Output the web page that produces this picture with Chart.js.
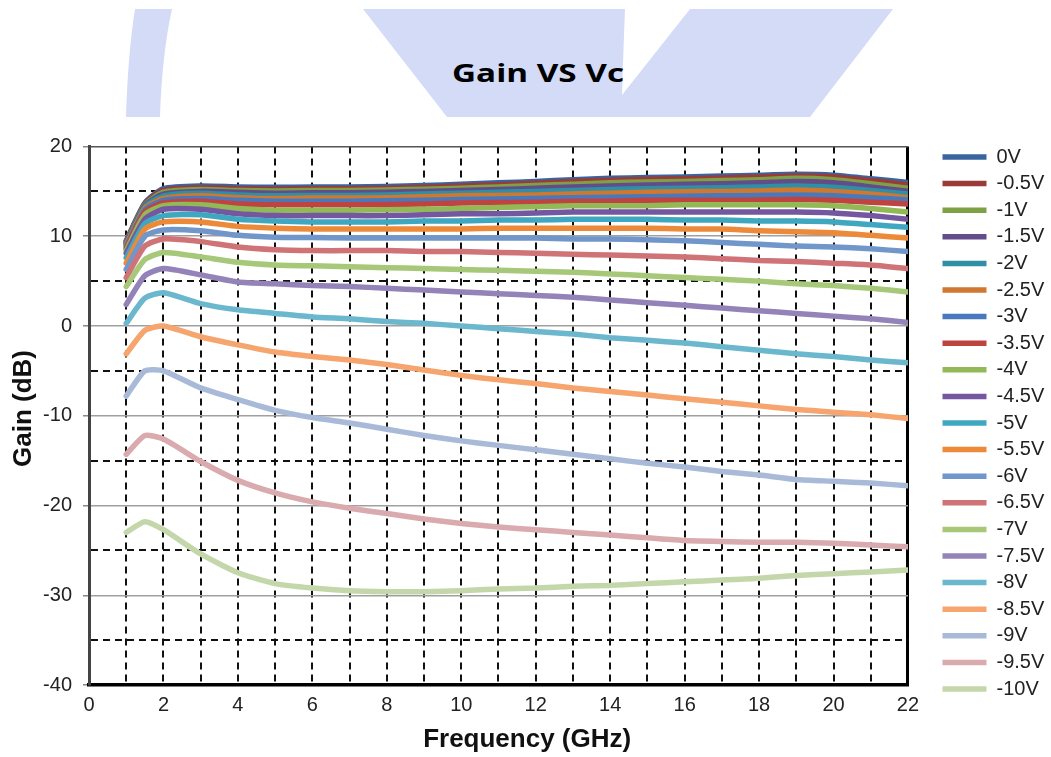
<!DOCTYPE html>
<html lang="en">
<head>
<meta charset="UTF-8">
<title>Gain VS Vc</title>
<script src="https://cdn.jsdelivr.net/npm/chart.js@4"></script>
<style>
    html, body {
        margin: 0;
        padding: 0;
        background: #fff;
        width: 1051px;
        height: 757px;
        overflow: hidden;
        position: relative;
    }
    #banner {
        position: absolute;
        left: 0;
        top: 0;
    }
    .chart-box {
        position: absolute;
        left: 0;
        top: 118px;
        width: 1060px;
        height: 639px;
    }
</style>
</head>
<body>
<svg id="banner" width="1051" height="120">
    <path fill="#d3dbf7" d="M135,9 C130,40 127,80 126,117 L160,117 C161,80 165,40 172,9 Z"/>
    <path fill="#d3dbf7" d="M363,9 L625,9 Q623,60 622,95 L690,9 L893,9 L810,117 L447,117 Z"/>
    <text x="452" y="82" textLength="172" lengthAdjust="spacingAndGlyphs"
          font-family="Open Sans" font-weight="700" font-size="25" fill="#000">Gain VS Vc</text>
</svg>
<div class="chart-box"><canvas id="gainChart"></canvas></div>

<script>
// frequency points (GHz)
const freqGHz = [1, 1.5, 2, 3, 4, 5, 6, 7, 8, 9, 10, 11, 12, 13, 14, 15, 16, 17, 18, 19, 20, 21, 22];

const biasLabels = ['0V', '-0.5V', '-1V', '-1.5V', '-2V', '-2.5V', '-3V', '-3.5V', '-4V', '-4.5V', '-5V',
                    '-5.5V', '-6V', '-6.5V', '-7V', '-7.5V', '-8V', '-8.5V', '-9V', '-9.5V', '-10V'];

// gain (dB) per control voltage
const gain0V    = [9.5, 13.7, 15.3, 15.6, 15.5, 15.45, 15.5, 15.5, 15.55, 15.65, 15.8, 15.95, 16.1, 16.3, 16.45, 16.55, 16.6, 16.7, 16.8, 16.9, 16.8, 16.4, 16.0];
const gainM0_5V = [9.4, 13.6, 15.1, 15.4, 15.3, 15.25, 15.3, 15.3, 15.35, 15.45, 15.6, 15.75, 15.9, 16.1, 16.25, 16.35, 16.4, 16.5, 16.6, 16.7, 16.6, 16.2, 15.7];
const gainM1V   = [9.3, 13.5, 14.9, 15.2, 15.1, 15.05, 15.1, 15.1, 15.15, 15.25, 15.35, 15.5, 15.65, 15.8, 15.95, 16.05, 16.1, 16.2, 16.3, 16.45, 16.3, 15.85, 15.35];
const gainM1_5V = [9.2, 13.4, 14.7, 15.0, 14.9, 14.8, 14.85, 14.85, 14.9, 15.0, 15.1, 15.2, 15.35, 15.5, 15.6, 15.7, 15.8, 15.85, 15.95, 16.1, 15.95, 15.5, 15.0];
const gainM2V   = [9.1, 13.3, 14.5, 14.8, 14.6, 14.5, 14.55, 14.55, 14.6, 14.7, 14.8, 14.9, 15.0, 15.1, 15.2, 15.3, 15.35, 15.4, 15.5, 15.6, 15.45, 15.1, 14.7];
const gainM2_5V = [9.0, 13.1, 14.2, 14.5, 14.3, 14.2, 14.25, 14.25, 14.3, 14.4, 14.5, 14.55, 14.6, 14.7, 14.8, 14.9, 14.95, 15.0, 15.05, 15.15, 15.0, 14.7, 14.3];
const gainM3V   = [8.8, 12.9, 14.0, 14.2, 14.0, 13.9, 13.9, 13.9, 13.95, 14.0, 14.1, 14.15, 14.2, 14.3, 14.35, 14.4, 14.45, 14.5, 14.55, 14.6, 14.5, 14.3, 14.05];
const gainM3_5V = [8.6, 12.7, 13.7, 13.9, 13.6, 13.5, 13.5, 13.5, 13.55, 13.6, 13.7, 13.75, 13.8, 13.9, 13.9, 14.0, 14.0, 14.0, 14.05, 14.1, 14.0, 13.8, 13.6];
const gainM4V   = [8.4, 12.4, 13.4, 13.5, 13.1, 12.9, 12.9, 12.9, 12.95, 13.0, 13.1, 13.2, 13.3, 13.4, 13.4, 13.4, 13.5, 13.5, 13.5, 13.5, 13.4, 13.1, 12.7];
const gainM4_5V = [8.1, 11.9, 13.0, 13.0, 12.5, 12.3, 12.3, 12.3, 12.3, 12.4, 12.5, 12.5, 12.6, 12.7, 12.7, 12.7, 12.7, 12.7, 12.7, 12.7, 12.6, 12.3, 11.9];
const gainM5V   = [7.6, 11.4, 12.3, 12.4, 11.9, 11.7, 11.6, 11.6, 11.6, 11.7, 11.7, 11.8, 11.8, 11.9, 11.9, 11.9, 11.8, 11.8, 11.7, 11.7, 11.6, 11.3, 11.0];
const gainM5_5V = [7.0, 10.8, 11.6, 11.6, 11.1, 10.9, 10.8, 10.8, 10.8, 10.8, 10.8, 10.9, 10.9, 10.9, 10.9, 10.9, 10.8, 10.8, 10.6, 10.5, 10.4, 10.1, 9.8];
const gainM6V   = [6.3, 10.0, 10.7, 10.6, 10.1, 9.9, 9.85, 9.8, 9.8, 9.8, 9.8, 9.8, 9.8, 9.7, 9.7, 9.6, 9.5, 9.3, 9.1, 8.9, 8.8, 8.6, 8.3];
const gainM6_5V = [5.4, 8.9, 9.7, 9.4, 8.8, 8.5, 8.4, 8.4, 8.4, 8.3, 8.3, 8.2, 8.1, 8.0, 7.9, 7.8, 7.7, 7.5, 7.3, 7.2, 7.0, 6.8, 6.4];
const gainM7V   = [4.4, 7.4, 8.2, 7.7, 7.1, 6.8, 6.7, 6.6, 6.5, 6.4, 6.3, 6.2, 6.1, 6.0, 5.8, 5.6, 5.4, 5.2, 5.0, 4.7, 4.5, 4.2, 3.8];
const gainM7_5V = [2.4, 5.6, 6.4, 5.7, 4.9, 4.7, 4.5, 4.4, 4.2, 4.0, 3.8, 3.6, 3.4, 3.2, 2.9, 2.6, 2.3, 2.0, 1.7, 1.4, 1.1, 0.8, 0.4];
const gainM8V   = [0.3, 3.1, 3.7, 2.5, 1.8, 1.4, 1.0, 0.8, 0.5, 0.3, 0.0, -0.3, -0.6, -0.9, -1.3, -1.6, -1.9, -2.3, -2.7, -3.1, -3.4, -3.8, -4.1];
const gainM8_5V = [-3.1, -0.5, 0.0, -1.2, -2.1, -2.9, -3.4, -3.8, -4.3, -4.9, -5.5, -6.0, -6.4, -6.9, -7.3, -7.7, -8.1, -8.5, -8.9, -9.3, -9.6, -9.9, -10.3];
const gainM9V   = [-7.8, -5.0, -5.0, -6.9, -8.2, -9.4, -10.2, -10.8, -11.5, -12.2, -12.8, -13.3, -13.8, -14.3, -14.8, -15.3, -15.7, -16.2, -16.6, -17.1, -17.3, -17.5, -17.8];
const gainM9_5V = [-14.3, -12.2, -12.6, -15.1, -17.2, -18.6, -19.6, -20.3, -20.9, -21.5, -22.0, -22.4, -22.7, -23.0, -23.3, -23.6, -23.9, -24.0, -24.1, -24.1, -24.2, -24.4, -24.6];
const gainM10V  = [-23.0, -21.8, -22.7, -25.4, -27.5, -28.7, -29.2, -29.5, -29.6, -29.6, -29.5, -29.3, -29.2, -29.0, -28.9, -28.7, -28.5, -28.3, -28.1, -27.8, -27.6, -27.4, -27.2];

const gainSeries = [gain0V, gainM0_5V, gainM1V, gainM1_5V, gainM2V, gainM2_5V, gainM3V, gainM3_5V,
                    gainM4V, gainM4_5V, gainM5V, gainM5_5V, gainM6V, gainM6_5V, gainM7V, gainM7_5V,
                    gainM8V, gainM8_5V, gainM9V, gainM9_5V, gainM10V];

const lineColors = [
    '#3a64a0', '#9b3b38', '#7fa145', '#634c8a', '#2f8fa5', '#d0782f', '#4879bd',
    '#bf4440', '#93b956', '#7457a0', '#3fa8c0', '#ed8a3a', '#7096ca', '#cf7376',
    '#a6c878', '#9483b8', '#6bb8ce', '#f5a56d', '#a9bad9', '#d9aaae', '#c3d7aa'
];

Chart.defaults.font.family = "'Liberation Sans', Arial, sans-serif";
Chart.defaults.color = '#222';

const datasets = gainSeries.map((vals, i) => ({
    label: biasLabels[i],
    data: freqGHz.map((f, k) => ({ x: f, y: vals[k] })),
    borderColor: lineColors[i],
    backgroundColor: lineColors[i],
    borderWidth: 5.5,
    borderCapStyle: 'round',
    borderJoinStyle: 'round',
    pointRadius: 0,
    tension: 0.2,
    fill: false,
    // later series drawn over earlier ones
    order: gainSeries.length - i
}));

const isMajorY = v => v % 10 === 0;

new Chart(document.getElementById('gainChart'), {
    type: 'line',
    data: { datasets },
    options: {
        responsive: true,
        maintainAspectRatio: false,
        animation: false,
        layout: { padding: { top: 22.4, left: 0, right: 5.7, bottom: 0 } },
        plugins: {
            tooltip: { enabled: false },
            title: {
                display: true,
                position: 'bottom',
                text: 'Frequency (GHz)',
                color: '#111',
                font: { size: 26, weight: 'bold' },
                padding: { top: 0, bottom: 2 }
            },
            legend: {
                position: 'right',
                align: 'start',
                labels: {
                    usePointStyle: true,
                    pointStyle: 'line',
                    pointStyleWidth: 44,
                    padding: 6.6,
                    color: '#222',
                    font: { size: 20 },
                    sort: (a, b) => a.datasetIndex - b.datasetIndex
                }
            }
        },
        scales: {
            x: {
                type: 'linear',
                min: 0,
                max: 22,
                ticks: {
                    stepSize: 1,
                    autoSkip: false,
                    maxRotation: 0,
                    padding: 8,
                    color: '#222',
                    font: { size: 20 },
                    callback: v => (v % 2 === 0 ? v : '')
                },
                grid: {
                    drawTicks: false,
                    color: ctx => (ctx.tick && ctx.tick.value === 22 ? '#000' : '#111'),
                    lineWidth: ctx => (ctx.tick && ctx.tick.value === 22 ? 3 : 2)
                },
                border: {
                    color: '#000',
                    width: 3.5,
                    dash: ctx => (ctx.tick && ctx.tick.value !== 22 ? [7, 5] : [])
                },
                afterFit: s => { s.height = 38.8; }
            },
            y: {
                type: 'linear',
                min: -40,
                max: 20,
                ticks: {
                    stepSize: 5,
                    padding: 11,
                    color: '#222',
                    font: { size: 20 },
                    callback: v => (isMajorY(v) ? v : '')
                },
                grid: {
                    tickLength: 6,
                    tickWidth: 1.5,
                    tickColor: ctx => (ctx.tick && isMajorY(ctx.tick.value) ? '#888' : 'rgba(0,0,0,0)'),
                    color: ctx => {
                        if (!ctx.tick) return '#888';
                        if (ctx.tick.value === 20) return '#555';
                        return isMajorY(ctx.tick.value) ? '#a0a0a0' : '#111';
                    },
                    lineWidth: ctx => (ctx.tick && !isMajorY(ctx.tick.value) ? 2 : 1.5)
                },
                border: {
                    color: '#444',
                    width: 3,
                    dash: ctx => (ctx.tick && !isMajorY(ctx.tick.value) ? [7, 5] : [])
                },
                title: {
                    display: true,
                    text: '  Gain (dB)',
                    color: '#111',
                    font: { size: 26, weight: 'bold' },
                    padding: { top: 8.4, bottom: 0 }
                },
                afterFit: s => { s.width = 89; s.paddingTop = 28.5; }
            },
            // empty spacer between the plot and the legend
            gap: {
                type: 'linear',
                position: 'right',
                display: true,
                grid: { display: false, drawTicks: false },
                ticks: { display: false },
                border: { display: false },
                afterFit: s => { s.width = 27.9; }
            }
        }
    }
});
</script>
</body>
</html>
